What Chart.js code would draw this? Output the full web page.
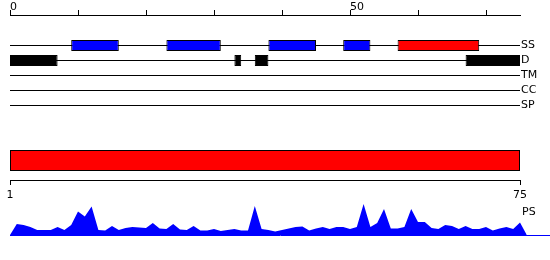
<!DOCTYPE html>
<html>
<head>
<meta charset="utf-8">
<script src="https://cdn.jsdelivr.net/npm/chart.js@4/dist/chart.umd.min.js"></script>
<style>
  html, body { margin: 0; padding: 0; background: #fff; }
  #wrap { position: relative; width: 550px; height: 260px; overflow: hidden; }
  #wrap canvas { position: absolute; left: 0; }
</style>
</head>
<body>
<div id="wrap">
  <canvas id="ruler" width="550" height="20" style="top:0px"></canvas>
  <canvas id="tracks" width="550" height="75" style="top:38px"></canvas>
  <canvas id="region" width="550" height="65" style="top:140px"></canvas>
  <canvas id="profile" width="550" height="45" style="top:195px"></canvas>
</div>
<script>
// sequence length and ruler
const seqLength = 75;
const rulerTicks = [0, 10, 20, 30, 40, 50, 60, 70];
const rulerLabels = [0, 50];

// feature tracks
const trackNames = ['SS', 'D', 'TM', 'CC', 'SP'];
const ssBlueSegments = [[9, 16], [23, 31], [38, 45], [49, 53]];
const ssRedSegments = [[57, 69]];
const disorderSegments = [[0, 7], [33, 34], [36, 38], [67, 75]];

// region bar + its axis
const regionSpan = [1, 75];
const regionTicks = [1, 75];

// PS profile, one value per residue (1..75)
const psValues = [
  11, 10, 8, 5, 5, 5, 8, 5, 10, 23.5,
  18.5, 28.5, 5, 4.5, 9, 5, 7, 8, 7.5, 7,
  12, 6.5, 6, 11, 5.5, 5, 9, 4.5, 4.5, 6,
  4, 5, 6, 4.5, 4.5, 29, 6, 5, 3.5, 5,
  6.5, 8, 8.5, 4.5, 6.5, 8, 6, 8, 8, 6,
  8, 31, 8, 12, 26, 6.5, 6.5, 8, 26, 13,
  13, 7, 6, 10, 9, 6, 9, 6, 6, 8,
  4.5, 6.5, 8, 6, 12.5
];

Chart.defaults.font.family = '"DejaVu Sans", sans-serif';
Chart.defaults.font.size = 11;
Chart.defaults.color = '#000';
Chart.defaults.animation = false;
Chart.defaults.responsive = false;
Chart.defaults.devicePixelRatio = 1;
Chart.defaults.plugins.legend.display = false;
Chart.defaults.plugins.tooltip.enabled = false;

// ruler on top
new Chart(document.getElementById('ruler'), {
    type: 'scatter',
    data: { datasets: [] },
    options: {
        layout: { padding: { left: 10, right: 30 } },
        scales: {
            x: {
                type: 'linear', position: 'top', min: 0, max: seqLength,
                afterBuildTicks: (s) => { s.ticks = rulerTicks.map(v => ({ value: v })); },
                afterFit: (s) => { s.height = 15; },
                ticks: {
                    autoSkip: false, maxRotation: 0, align: 'start', padding: -3,
                    font: { lineHeight: 1 },
                    callback: (v) => rulerLabels.includes(v) ? String(v) : ''
                },
                grid: { drawOnChartArea: false, color: '#000', tickLength: 5 },
                border: { color: '#000', width: 1 }
            },
            y: { display: false }
        }
    }
});

function segs(track, list) {
    return list.map(r => ({ y: track, x: r }));
}

// feature tracks
new Chart(document.getElementById('tracks'), {
    type: 'bar',
    data: {
        labels: trackNames,
        datasets: [
            { data: segs('SS', ssBlueSegments), backgroundColor: '#0000ff' },
            { data: segs('SS', ssRedSegments), backgroundColor: '#ff0000' },
            { data: segs('D', disorderSegments), backgroundColor: '#000' }
        ]
    },
    options: {
        indexAxis: 'y',
        layout: { padding: { left: 10 } },
        datasets: {
            bar: {
                grouped: false, barThickness: 11, borderWidth: 1, borderColor: '#000',
                borderSkipped: false, inflateAmount: 0
            }
        },
        scales: {
            x: { type: 'linear', min: 0, max: seqLength, display: false },
            y: {
                type: 'category', position: 'right',
                afterFit: (s) => { s.width = 30; s.paddingTop = 0; s.paddingBottom = 0; },
                ticks: { padding: 1, autoSkip: false },
                grid: { offset: false, drawTicks: false, color: '#000', lineWidth: 1 },
                border: { display: false }
            }
        }
    }
});

// red region bar with bottom axis
new Chart(document.getElementById('region'), {
    type: 'bar',
    data: {
        labels: ['region'],
        datasets: [{
            data: [{ y: 'region', x: regionSpan }],
            backgroundColor: '#ff0000', borderColor: '#000', borderWidth: 1,
            borderSkipped: false, inflateAmount: 0, barThickness: 21
        }]
    },
    options: {
        indexAxis: 'y',
        layout: { padding: { left: 10, right: 30, top: 1 } },
        scales: {
            x: {
                type: 'linear', position: 'bottom', min: regionSpan[0], max: regionSpan[1],
                afterBuildTicks: (s) => { s.ticks = regionTicks.map(v => ({ value: v })); },
                afterFit: (s) => { s.height = 25; },
                ticks: { autoSkip: false, maxRotation: 0, padding: 4 },
                grid: { drawOnChartArea: false, color: '#000', tickLength: 5 },
                border: { color: '#000', width: 1 }
            },
            y: { display: false }
        }
    }
});

// PS profile
const psLabel = {
    id: 'psLabel',
    afterDraw(chart) {
        const { ctx, scales: { x, y } } = chart;
        ctx.save();
        ctx.font = '11px "DejaVu Sans"';
        ctx.fillStyle = '#000';
        ctx.textBaseline = 'middle';
        ctx.fillText('PS', x.getPixelForValue(seqLength) + 2, y.getPixelForValue(23));
        ctx.restore();
    }
};

const profilePoints = [{ x: 0, y: 0 }]
    .concat(psValues.map((v, i) => ({ x: i + 1, y: v })))
    .concat([{ x: seqLength + 1, y: 0 }]);

// keep 6.8 px per residue while letting the baseline run to the right edge
const profileMax = seqLength * (550 - 10) / (520 - 10);

new Chart(document.getElementById('profile'), {
    type: 'line',
    data: {
        datasets: [{
            data: profilePoints,
            fill: 'origin', backgroundColor: '#0000ff',
            borderWidth: 0, pointRadius: 0, tension: 0
        }]
    },
    options: {
        layout: { padding: { left: 10, top: 5 } },
        scales: {
            x: {
                type: 'linear', min: 0, max: profileMax,
                afterFit: (s) => { s.height = 5; },
                ticks: { display: false },
                grid: { display: false },
                border: { color: '#0000ff', width: 1 }
            },
            y: { display: false, min: 0, max: 35 }
        }
    },
    plugins: [psLabel]
});
</script>
</body>
</html>
